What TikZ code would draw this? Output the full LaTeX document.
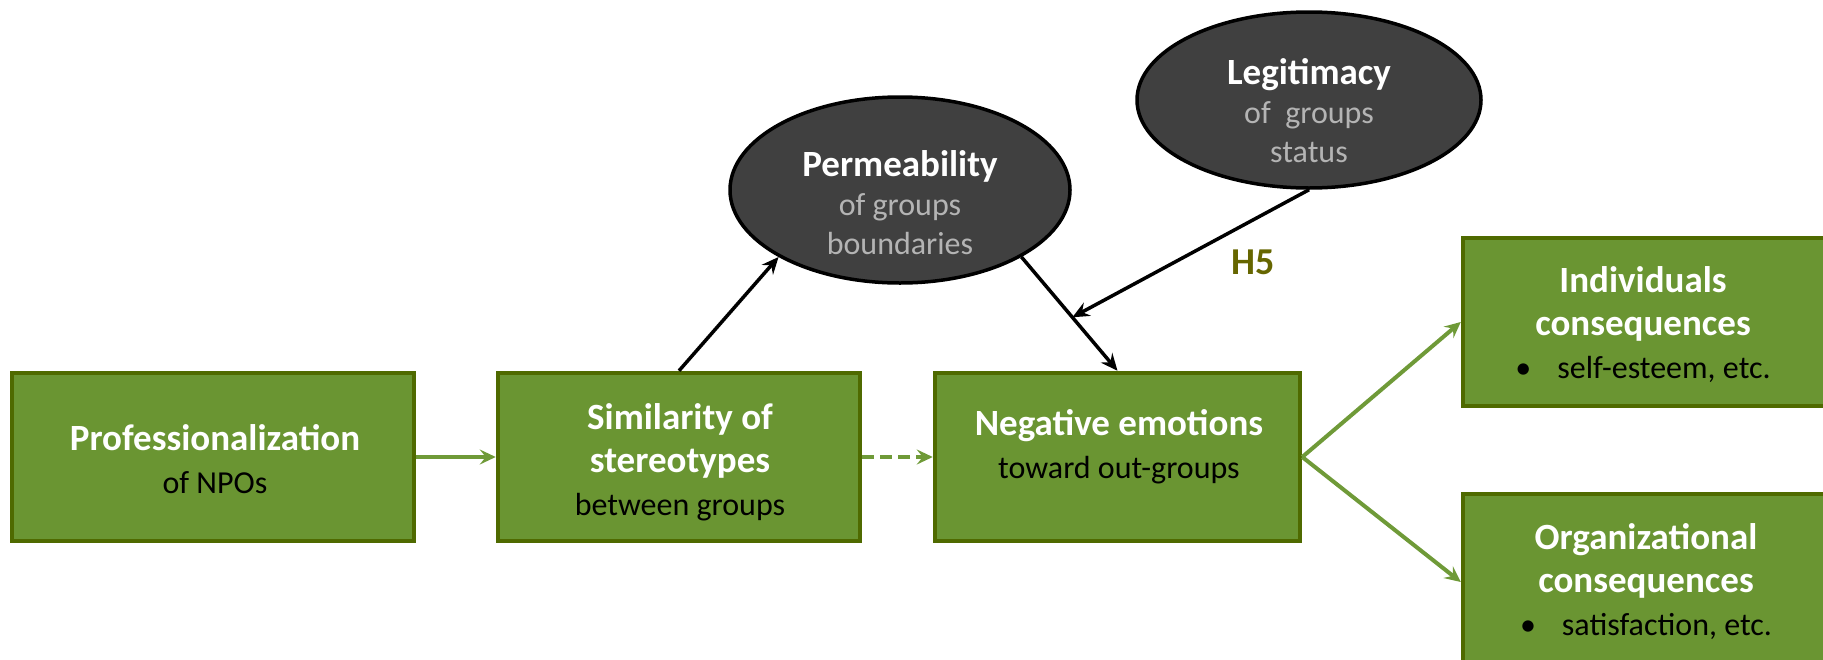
\documentclass[tikz,border=0pt]{standalone}
\usepackage{fontspec}
\setmainfont{Carlito}
\usetikzlibrary{arrows.meta,shapes.geometric}
\definecolor{boxfill}{HTML}{6A9532}
\definecolor{boxline}{HTML}{4F6A00}
\definecolor{arrgreen}{HTML}{6F9A38}
\definecolor{ellfill}{HTML}{404040}
\definecolor{graytxt}{HTML}{B4B4B4}
\definecolor{hcol}{HTML}{666600}
\newcommand\hd[1]{{\color{white}\fontsize{37}{43}\selectfont\bfseries #1}}
\begin{document}
\begin{tikzpicture}[x=1pt,y=-1pt,
  box/.style={draw=boxline, fill=boxfill, line width=4.5pt, inner sep=0pt, minimum height=168pt},
  ell/.style={ellipse, draw=black, fill=ellfill, line width=3.5pt, inner sep=0pt},
  boxtxt/.style={align=center, inner sep=0pt, text=black, font=\fontsize{32}{43}\selectfont},
  elltxt/.style={align=center, inner sep=0pt, text=graytxt, font=\fontsize{32}{39}\selectfont},
  garrow/.style={draw=arrgreen, line width=4pt, -{Stealth[length=16pt,width=15pt,inset=6pt]}},
  barrow/.style={draw=black, line width=3.5pt, -{Stealth[length=17pt,width=15pt,inset=6pt]}}]
\useasboundingbox (0,0) rectangle (1823,659);
\clip (0,0) rectangle (1823,659);

% boxes
\node[box, minimum width=402pt] (b1) at (213,457) {};
\node[box, minimum width=362pt] (b2) at (679,457) {};
\node[box, minimum width=365pt] (b3) at (1117.5,457) {};
\node[box, minimum width=367pt] (b4) at (1646.5,322) {};
\node[box, minimum width=367pt] (b5) at (1646.5,578) {};

\node[boxtxt] (t1) at (215,459) {\hd{Professionalization}\\of NPOs};
\node[boxtxt] (t2) at (680,462) {\hd{Similarity of}\\\hd{stereotypes}\\between groups};
\node[boxtxt] (t3) at (1119,447) {\hd{Negative emotions}\\toward out-groups};
\node[boxtxt] (t4) at (1643,325) {\hd{Individuals}\\\hd{consequences}\\\textbullet\hspace{26pt}self-esteem, etc.};
\node[boxtxt] (t5) at (1646,582) {\hd{Organizational}\\\hd{consequences}\\\textbullet\hspace{26pt}satisfaction, etc.};

% ellipses
\node[ell, minimum width=340pt, minimum height=186pt] (perm) at (900,190) {};
\node[ell, minimum width=344pt, minimum height=176pt] (legit) at (1309,100) {};
\node[elltxt] (tp) at (900,203) {\hd{Permeability}\\of groups\\boundaries};
\node[elltxt] (tl) at (1309,111) {\hd{Legitimacy}\\of~~groups\\status};

\node[text=hcol, font=\fontsize{38}{44}\selectfont\bfseries, inner sep=0pt] (h5) at (1253,262) {H5};

% connectors
\draw[garrow] (b1.east) -- (b2.west);
\draw[garrow, dash pattern=on 12pt off 6pt] (b2.east) -- (b3.west);
\draw[barrow] (b2.north) -- (perm.south west);
\draw[barrow] (perm.south east) -- (b3.north);
\path (perm.south east) -- (b3.north) coordinate[pos=0.53] (m);
\draw[barrow] (legit.south) -- (m);
\draw[garrow] (b3.east) -- (b4.west);
\draw[garrow] (b3.east) -- ([yshift=-4pt]b5.west);
\end{tikzpicture}
\end{document}
